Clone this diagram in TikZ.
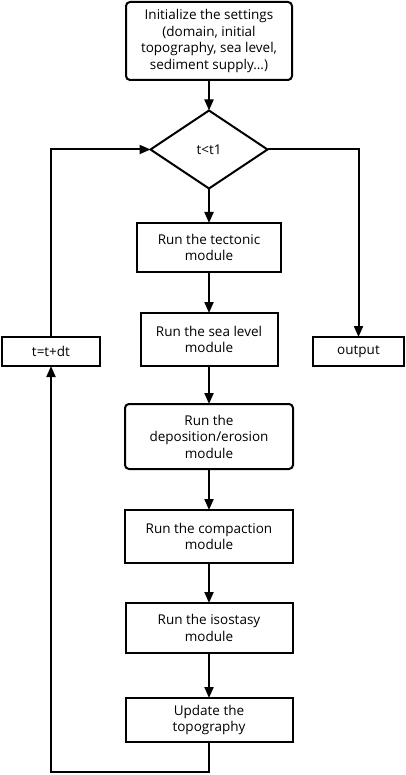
\documentclass[tikz,border=0pt]{standalone}
\usepackage{fontspec}
\setmainfont{Open Sans}
\usetikzlibrary{positioning, arrows.meta, shapes.geometric}

\begin{document}
\begin{tikzpicture}[
    x=1pt, y=1pt,
    font=\fontsize{13.5}{16.5}\selectfont,
    box/.style={draw, line width=2pt, align=center, inner sep=2pt, outer sep=0pt},
    rbox/.style={box, rounded corners=4pt},
    cond/.style={draw, diamond, line width=2pt, inner sep=0pt, outer sep=0pt,
                 minimum width=117pt, minimum height=78pt},
    arr/.style={-{Triangle[length=11pt, width=9pt]}, line width=2pt}
]
\useasboundingbox (0,0) rectangle (406,-775);
\node[rbox, minimum width=166pt, minimum height=78pt] (init) at (209,-41)
    {Initialize the settings\\(domain, initial\\topography, sea level,\\sediment supply...)};
\node[cond] (test) at (209,-149.5) {t<t1};
\node[box, minimum width=144pt, minimum height=49pt] (tect) at (209,-247.5)
    {Run the tectonic\\module};
\node[box, minimum width=137pt, minimum height=53pt] (sea) at (209,-339.5)
    {Run the sea level\\module};
\node[rbox, minimum width=168pt, minimum height=65pt] (depo) at (209,-436.5)
    {Run the\\deposition/erosion\\module};
\node[box, minimum width=168pt, minimum height=53pt] (compact) at (209,-536.5)
    {Run the compaction\\module};
\node[box, minimum width=167pt, minimum height=50pt] (iso) at (209,-628)
    {Run the isostasy\\module};
\node[box, minimum width=167pt, minimum height=44pt] (update) at (209,-720)
    {Update the\\topography};
\node[box, minimum width=98pt, minimum height=29pt] (incr) at (51,-351.5) {t=t+dt};
\node[box, minimum width=91pt, minimum height=29pt] (output) at (358.5,-351.5) {output};

\draw[arr] (init) -- (test);
\draw[arr] (test) -- (tect);
\draw[arr] (tect) -- (sea);
\draw[arr] (sea) -- (depo);
\draw[arr] (depo) -- (compact);
\draw[arr] (compact) -- (iso);
\draw[arr] (iso) -- (update);
\draw[arr] (test.east) -| (output.north);
\draw[arr] (update.south) -- ++(0,-30) -| (incr.south);
\draw[arr] (incr.north) |- (test.west);
\end{tikzpicture}
\end{document}
